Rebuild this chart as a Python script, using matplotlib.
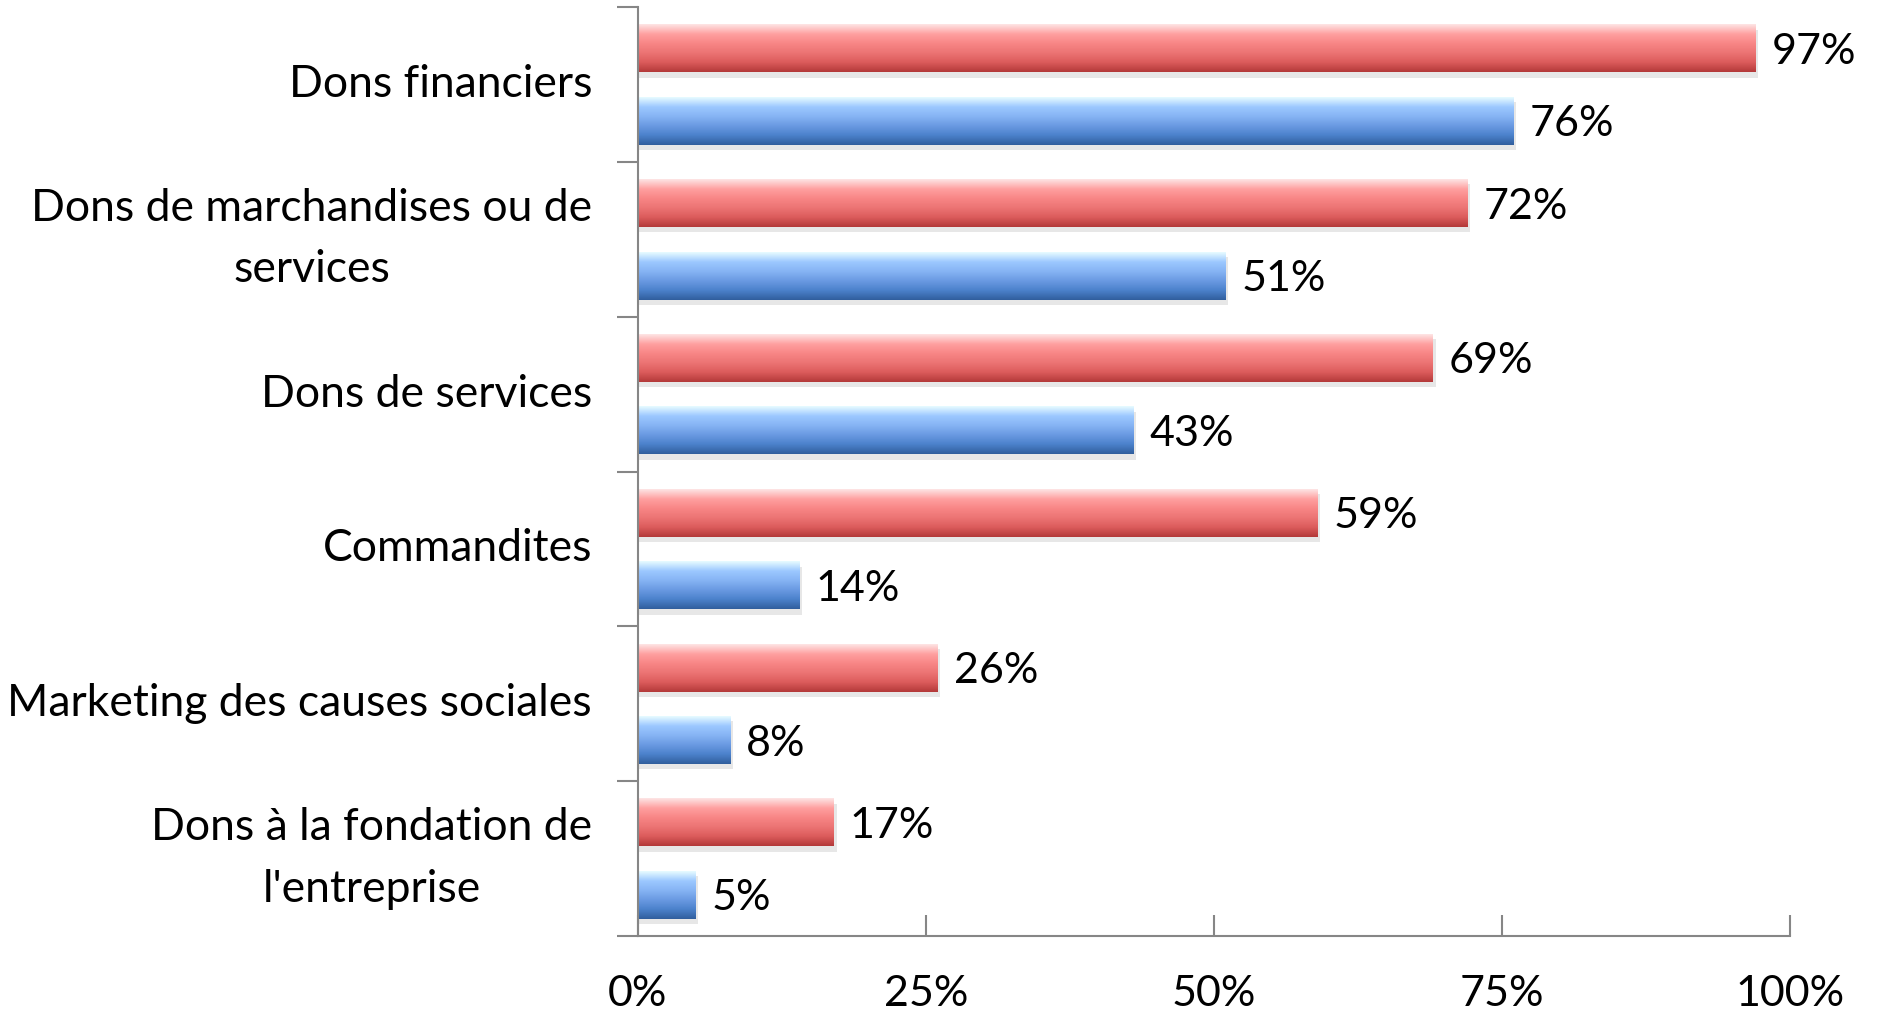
import numpy as np
import matplotlib
matplotlib.use("Agg")
import matplotlib.pyplot as plt
from matplotlib.colors import LinearSegmentedColormap

# data, top to bottom
categories = [
    "Dons financiers",
    "Dons de marchandises ou de\nservices",
    "Dons de services",
    "Commandites",
    "Marketing des causes sociales",
    "Dons à la fondation de\nl'entreprise",
]
red_values = [97, 72, 69, 59, 26, 17]
blue_values = [76, 51, 43, 14, 8, 5]
x_ticks = [0, 25, 50, 75, 100]
x_tick_labels = ["0%", "25%", "50%", "75%", "100%"]

plt.rcParams['font.family'] = ['Lato', 'DejaVu Sans']
FS = 31

fig = plt.figure(figsize=(18.79, 10.16), dpi=100)
ax = fig.add_axes([0.3395, 0.0787, 0.6131, 0.9144])

red_cmap = LinearSegmentedColormap.from_list(
    "red", ["#fde4e4", "#ffa0a0", "#f88686", "#ec7474", "#dc5c5c", "#b43a3a"])
blue_cmap = LinearSegmentedColormap.from_list(
    "blue", ["#e6fbff", "#9cc8ff", "#86b4f4", "#6a9ae2", "#4c82cc", "#315f9e"])

grad = np.linspace(0, 1, 64).reshape(-1, 1)

h = 0.31
off = 0.234
y = np.arange(len(categories))


def draw_bars(ypos, vals, cmap):
    for yy, v in zip(ypos, vals):
        # soft shadow
        ax.barh(yy + 0.035, v + 0.25, height=h, left=0.0, color="#bbbbbb",
                alpha=0.35, zorder=1, linewidth=0)
        ax.imshow(grad, cmap=cmap, aspect="auto", interpolation="bilinear",
                  extent=(0, v, yy + h / 2, yy - h / 2), zorder=2)
        ax.text(v + 1.4, yy, f"{v}%", va="center_baseline", ha="left",
                fontsize=FS, color="black")


draw_bars(y - off, red_values, red_cmap)
draw_bars(y + off, blue_values, blue_cmap)

ax.set_xlim(0, 100)
ax.set_ylim(len(categories) - 0.5, -0.5)

for s in ["top", "right"]:
    ax.spines[s].set_visible(False)
for s in ["left", "bottom"]:
    ax.spines[s].set_color("#868686")
    ax.spines[s].set_linewidth(1.5)

ax.set_yticks(y)
ax.set_yticklabels(categories, fontsize=32, ha="right", va="center",
                   multialignment="center", linespacing=1.62)
ax.set_yticks(np.arange(-0.5, len(categories)), minor=True)
ax.tick_params(axis="y", which="major", length=0, pad=33)
ax.tick_params(axis="y", which="minor", length=15, width=1.5, color="#868686",
               direction="out")

ax.set_xticks(x_ticks)
ax.set_xticklabels(x_tick_labels, fontsize=FS)
ax.tick_params(axis="x", length=15, width=1.5, color="#868686",
               direction="in", pad=28)

fig.savefig("out.png", dpi=100)
